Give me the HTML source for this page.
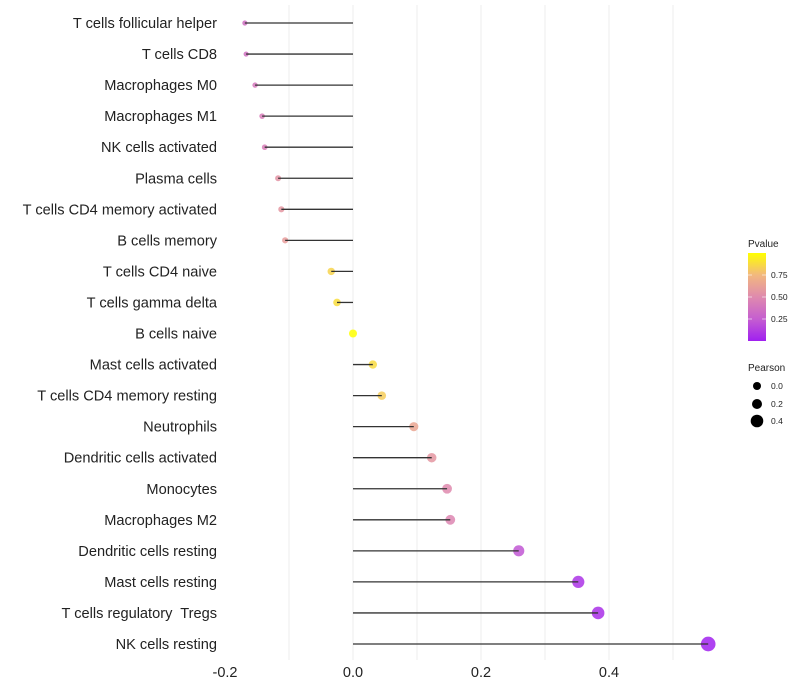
<!DOCTYPE html>
<html><head><meta charset="utf-8"><style>
body{margin:0;background:#fff;}
svg{display:block;font-family:"Liberation Sans",Arial,sans-serif;}
</style></head><body>
<svg id="chart" width="800" height="700" xmlns="http://www.w3.org/2000/svg">
<defs><linearGradient id="pg" x1="0" y1="1" x2="0" y2="0">
<stop offset="0" stop-color="#A020F0"/><stop offset="0.25" stop-color="#C55ED0"/><stop offset="0.5" stop-color="#DF8AAE"/><stop offset="0.75" stop-color="#F2B87F"/><stop offset="1" stop-color="#FFFF00"/></linearGradient></defs>
<g id="grid"></g>
<g id="marks"></g>
<g id="ylabels"></g>
<g id="xlabels"></g>
<g font-size="10" fill="#222">
<text x="748" y="247">Pvalue</text>
<rect x="748" y="253" width="18" height="88" fill="url(#pg)"/>
<g stroke="#fff" stroke-width="0.8" opacity="0.7"><line x1="748" x2="752" y1="275" y2="275"/><line x1="762" x2="766" y1="275" y2="275"/><line x1="748" x2="752" y1="297" y2="297"/><line x1="762" x2="766" y1="297" y2="297"/><line x1="748" x2="752" y1="319" y2="319"/><line x1="762" x2="766" y1="319" y2="319"/></g>
<text x="771" y="278" font-size="8.5">0.75</text><text x="771" y="300" font-size="8.5">0.50</text><text x="771" y="322" font-size="8.5">0.25</text>
</g>
<g fill="#222">
<text x="748" y="371" font-size="10">Pearson</text>
<circle cx="757" cy="386" r="4" fill="#000"/><text x="771" y="389" font-size="8.5">0.0</text>
<circle cx="757" cy="404" r="5" fill="#000"/><text x="771" y="407" font-size="8.5">0.2</text>
<circle cx="757" cy="421" r="6.3" fill="#000"/><text x="771" y="424" font-size="8.5">0.4</text>
</g>
</svg>
<script>
const categories=["T cells follicular helper","T cells CD8","Macrophages M0","Macrophages M1","NK cells activated","Plasma cells","T cells CD4 memory activated","B cells memory","T cells CD4 naive","T cells gamma delta","B cells naive","Mast cells activated","T cells CD4 memory resting","Neutrophils","Dendritic cells activated","Monocytes","Macrophages M2","Dendritic cells resting","Mast cells resting","T cells regulatory  Tregs","NK cells resting"];
const pearson=[-0.169,-0.167,-0.153,-0.142,-0.138,-0.117,-0.112,-0.106,-0.034,-0.025,0.0,0.031,0.045,0.095,0.123,0.147,0.152,0.259,0.352,0.383,0.555];
const pvalues=[0.35,0.36,0.4,0.42,0.43,0.55,0.57,0.6,0.85,0.88,1.0,0.87,0.82,0.65,0.57,0.5,0.48,0.22,0.08,0.06,0.01];
const xTicks=[-0.2,0.0,0.2,0.4];
const xGrid=[-0.1,0.0,0.1,0.2,0.3,0.4,0.5];
const NS="http://www.w3.org/2000/svg";
const xs=v=>353+v*640;
const ys=i=>23+i*31.05;
const rs=v=>Math.max(1.5,v<0?4+8.5*v:4+6*v);
const stops=[[0,[160,32,240]],[0.25,[197,94,208]],[0.5,[223,138,174]],[0.75,[242,184,127]],[1,[255,255,0]]];
function col(p){for(let k=1;k<stops.length;k++){if(p<=stops[k][0]){const a=stops[k-1],b=stops[k];const t=(p-a[0])/(b[0]-a[0]);return 'rgb('+a[1].map((c,j)=>Math.round(c+(b[1][j]-c)*t)).join(',')+')';}}return 'rgb(255,255,0)';}
function mk(t,a,parent){const e=document.createElementNS(NS,t);for(const k in a)e.setAttribute(k,a[k]);document.getElementById(parent).appendChild(e);return e;}
xGrid.forEach(v=>{const l=mk('line',{x1:xs(v),x2:xs(v),y1:5,y2:660,stroke:'#eeeeee','stroke-width':1},'grid');

});
xTicks.forEach(v=>{const t=mk('text',{x:xs(v),y:677,'text-anchor':'middle','font-size':14.5,fill:'#222'},'xlabels');t.textContent=v.toFixed(1);

});
categories.forEach((c,i)=>{const y=ys(i);
const t=mk('text',{x:217,y:y+5,'text-anchor':'end','font-size':14.6,fill:'#222',style:'white-space:pre'},'ylabels');t.textContent=c;


const d=mk('circle',{cx:xs(pearson[i]),cy:y,r:rs(pearson[i]),fill:col(pvalues[i]),'fill-opacity':0.85},'marks');


const s=mk('line',{x1:xs(0),x2:xs(pearson[i]),y1:y,y2:y,stroke:'#333','stroke-width':1.3},'marks');

});
</script>
</body></html>
